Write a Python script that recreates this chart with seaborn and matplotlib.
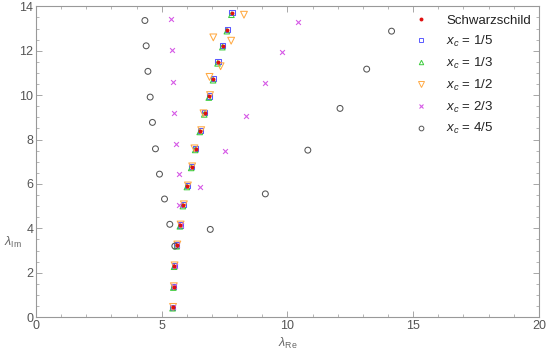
import numpy as np
import pandas as pd
import seaborn as sns
import matplotlib.pyplot as plt
from matplotlib.lines import Line2D
from matplotlib.ticker import MultipleLocator

# quasinormal mode frequencies
schw_re = [5.44, 5.47, 5.50, 5.60, 5.73, 5.85, 6.02, 6.19, 6.35, 6.53, 6.71, 6.89, 7.05, 7.23, 7.42, 7.60, 7.78]
schw_im = [0.44, 1.37, 2.31, 3.24, 4.14, 5.06, 5.91, 6.77, 7.58, 8.39, 9.19, 9.95, 10.73, 11.49, 12.22, 12.94, 13.69]

xc15_re = [5.44, 5.47, 5.50, 5.60, 5.73, 5.85, 6.02, 6.19, 6.35, 6.53, 6.71, 6.90, 7.06, 7.24, 7.43, 7.61, 7.79]
xc15_im = [0.45, 1.38, 2.32, 3.25, 4.15, 5.07, 5.92, 6.78, 7.59, 8.40, 9.20, 9.96, 10.75, 11.50, 12.24, 12.96, 13.71]

xc13_re = [5.43, 5.46, 5.49, 5.59, 5.72, 5.84, 6.00, 6.17, 6.33, 6.51, 6.69, 6.87, 7.04, 7.22, 7.41, 7.59, 7.77]
xc13_im = [0.40, 1.33, 2.27, 3.19, 4.09, 5.00, 5.86, 6.72, 7.53, 8.34, 9.13, 9.89, 10.67, 11.43, 12.16, 12.88, 13.62]

xc12_re = [5.45, 5.48, 5.51, 5.62, 5.75, 5.88, 6.04, 6.21, 6.30, 6.57, 6.66, 6.92, 6.90, 7.34, 7.76, 7.05, 8.27]
xc12_im = [0.46, 1.39, 2.33, 3.27, 4.17, 5.08, 5.93, 6.79, 7.60, 8.42, 9.18, 10.0, 10.82, 11.30, 12.45, 12.60, 13.62]

xc23_re = [5.45, 5.48, 5.52, 5.62, 5.75, 5.69, 6.52, 5.69, 7.51, 5.58, 8.34, 5.50, 9.11, 5.45, 9.78, 5.39, 10.43, 5.35]
xc23_im = [0.45, 1.38, 2.32, 3.25, 4.15, 5.06, 5.84, 6.43, 7.50, 7.79, 9.08, 9.20, 10.55, 10.60, 11.95, 12.03, 13.30, 13.42]

xc45_re = [5.52, 6.93, 5.32, 5.11, 9.12, 4.91, 4.75, 10.81, 4.63, 12.09, 4.54, 4.45, 13.15, 4.38, 14.14, 4.33]
xc45_im = [3.20, 3.95, 4.18, 5.32, 5.55, 6.44, 7.58, 7.52, 8.77, 9.40, 9.91, 11.07, 11.17, 12.22, 12.88, 13.36]

series = [
    ("Schwarzschild", schw_re, schw_im, "o", "#e01010", True, 8),
    ("$x_c$ = 1/5", xc15_re, xc15_im, "s", "#5a5aff", False, 14),
    ("$x_c$ = 1/3", xc13_re, xc13_im, "^", "#3ccc3c", False, 16),
    ("$x_c$ = 1/2", xc12_re, xc12_im, "v", "#ffaa44", False, 24),
    ("$x_c$ = 2/3", xc23_re, xc23_im, "x", "#d65ae6", True, 12),
    ("$x_c$ = 4/5", xc45_re, xc45_im, "o", "#555555", False, 18),
]

sns.set_theme(style="ticks")
plt.rcParams['font.family'] = ['Liberation Sans', 'DejaVu Sans']
plt.rcParams['mathtext.fontset'] = 'custom'
plt.rcParams['mathtext.it'] = 'Liberation Sans:italic'
plt.rcParams['mathtext.rm'] = 'Liberation Sans'

fig = plt.figure(figsize=(5.46, 3.5), dpi=100)
ax = fig.add_axes([0.066, 0.094, 0.921, 0.888])

handles = []
for label, re, im, marker, color, filled, size in series:
    df = pd.DataFrame({"re": re, "im": im})
    if marker == "x":
        sns.scatterplot(x="re", y="im", data=df, ax=ax, marker="x", color=color,
                        s=size, linewidth=0.8, legend=False)
        h = Line2D([], [], ls="none", marker="x", color=color, markersize=3.2, mew=0.8)
    elif filled:
        sns.scatterplot(x="re", y="im", data=df, ax=ax, marker=marker, color=color,
                        s=size, linewidth=0, legend=False, zorder=5)
        h = Line2D([], [], ls="none", marker=marker, color=color, markersize=2.8, mew=0)
    else:
        sns.scatterplot(x="re", y="im", data=df, ax=ax, marker=marker, facecolors="none",
                        edgecolor=color, s=size, linewidth=0.75, legend=False)
        h = Line2D([], [], ls="none", marker=marker, markerfacecolor="none",
                   markeredgecolor=color, markersize=np.sqrt(size) * 0.8, mew=0.7)
    handles.append((h, label))

ax.set_xlim(0, 20)
ax.set_ylim(0, 14)
ax.xaxis.set_major_locator(MultipleLocator(5))
ax.xaxis.set_minor_locator(MultipleLocator(1))
ax.yaxis.set_major_locator(MultipleLocator(2))
ax.yaxis.set_minor_locator(MultipleLocator(0.5))
ax.tick_params(which="both", direction="in", top=True, right=True, color="#999999",
               labelcolor="#555555", labelsize=9, pad=2)
ax.tick_params(which="major", length=4, width=0.6)
ax.tick_params(which="minor", length=2, width=0.5)
ax.tick_params(axis="x", which="both", labeltop=False)
ax.tick_params(axis="y", which="both", labelright=False)
for sp in ax.spines.values():
    sp.set_color("#999999")
    sp.set_linewidth(0.8)

ax.set_xlabel(r"$\lambda_{\rm Re}$", color="#666666", fontsize=9)
ax.xaxis.label.set_va("center")
ax.xaxis.set_label_coords(0.5, -0.085)
ax.set_ylabel(r"$\lambda_{\rm Im}$", color="#666666", fontsize=9, rotation=0)
ax.yaxis.label.set_va("center")
ax.yaxis.set_label_coords(-0.045, 0.24)

leg = ax.legend([h for h, _ in handles], [l for _, l in handles], loc="upper right",
                bbox_to_anchor=(0.997, 0.995), frameon=False, fontsize=9.5,
                handletextpad=1.4, labelspacing=0.52, borderaxespad=0.0,
                borderpad=0.5, handlelength=1.0)
for t in leg.get_texts():
    t.set_color("#222222")

fig.savefig("out.png", dpi=100)
